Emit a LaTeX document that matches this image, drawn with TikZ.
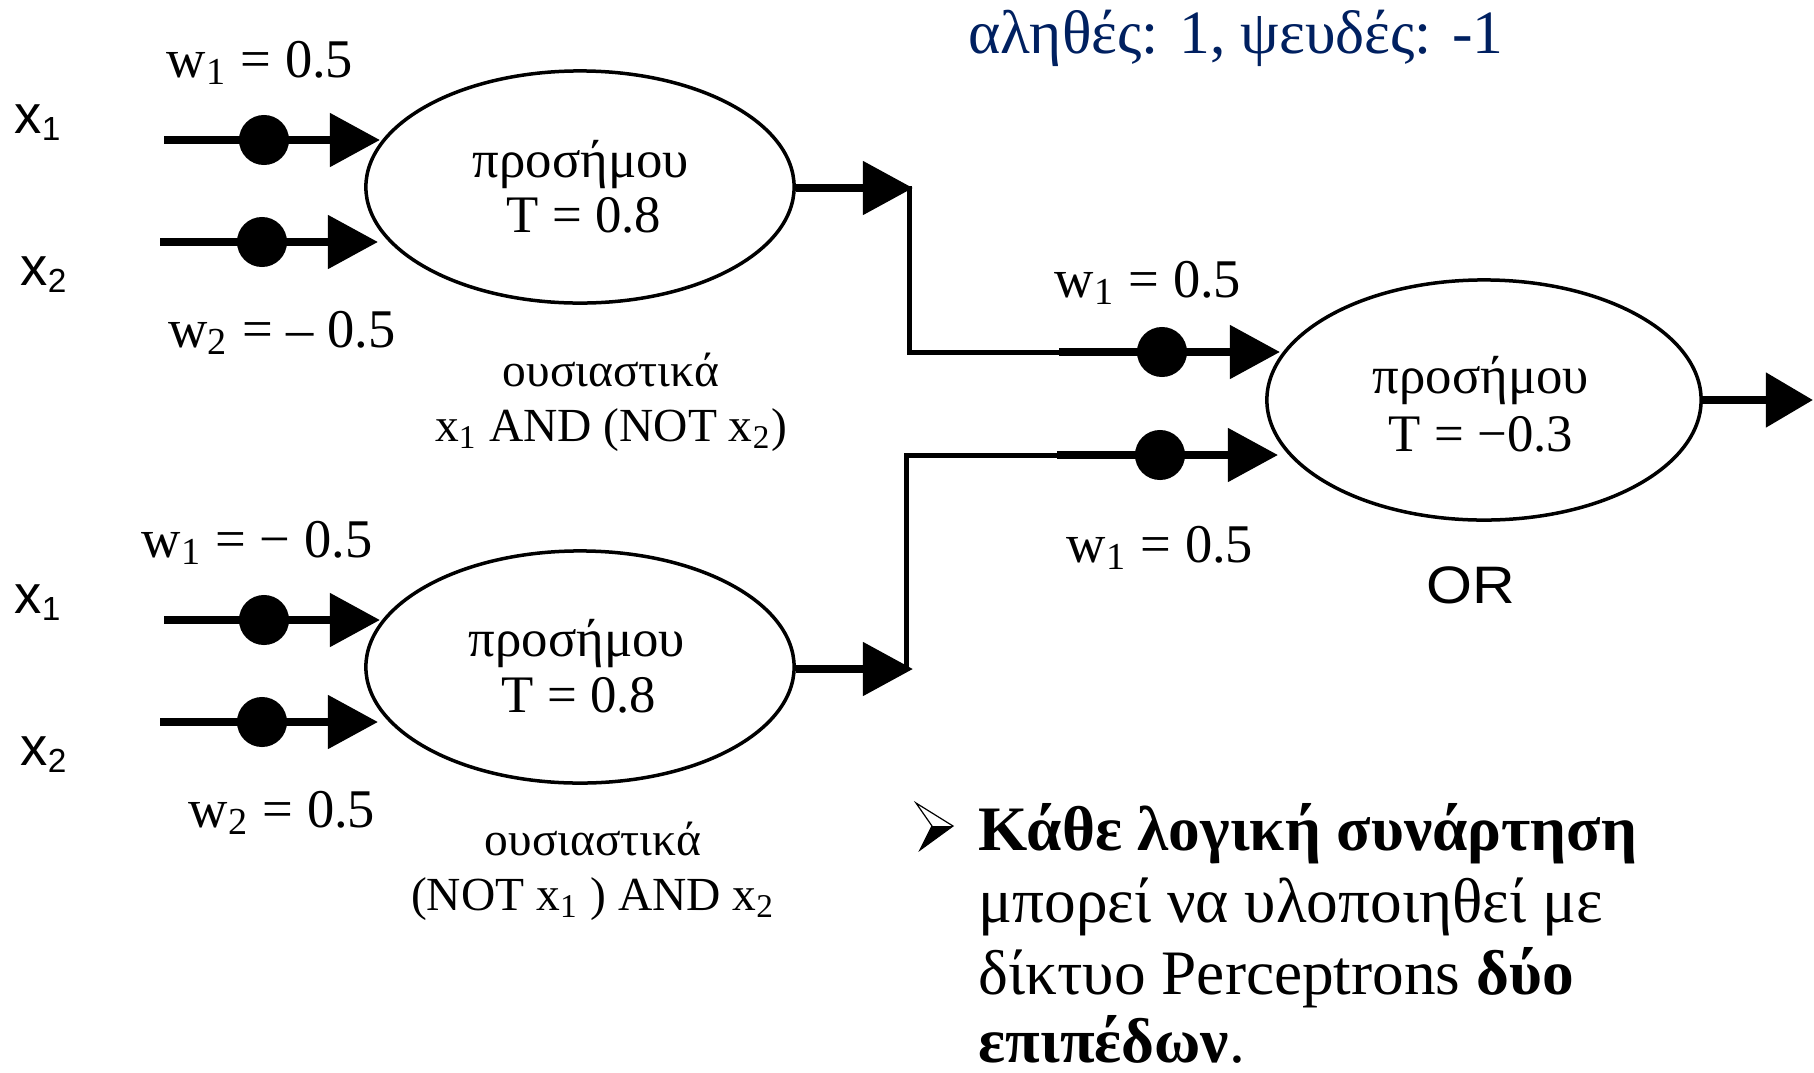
\documentclass[tikz,border=0pt]{standalone}
\usepackage{fontspec}
\usepackage{graphicx}
\setmainfont{Liberation Serif}
\newfontfamily\sansf{Liberation Sans}
\usetikzlibrary{arrows.meta,shapes.geometric}
\definecolor{navy}{RGB}{0,32,96}
\newcommand{\xsub}[1]{x\raisebox{-2.2pt}{\fontsize{9.5}{10}\selectfont #1}}
\begin{document}
\begin{tikzpicture}[x=0.01cm,y=-0.01cm,
  thickline/.style={line width=0.08cm},
  thinline/.style={line width=0.05cm},
  tri/.style={-{Triangle[length=0.5cm,width=0.52cm]}},
  unit/.style={draw, ellipse, line width=0.035cm, minimum width=4.28cm, minimum height=2.32cm, inner sep=0},
  wdot/.style={circle, fill, minimum size=0.5cm, inner sep=0},
  lab/.style={font=\fontsize{15.5}{18}\selectfont, inner sep=0, anchor=base},
  inlab/.style={font=\fontsize{15}{18}\selectfont, inner sep=0, anchor=base},
  captxt/.style={font=\fontsize{13.5}{16}\selectfont, inner sep=0, anchor=base},
  xlab/.style={font=\sansf\fontsize{15.5}{18}\selectfont, inner sep=0, anchor=base west},
  big/.style={font=\fontsize{18}{21}\selectfont, inner sep=0, anchor=base west}]
\useasboundingbox (0,0) rectangle (1814,1072);

% title
\node[font=\fontsize{17.5}{20}\selectfont, text=navy, inner sep=0, anchor=base] (title) at (1236,53) {αληθές: 1, ψευδές: -1};

% units
\node[unit] (A) at (580,187) {};
\node[unit] (B) at (580,667) {};
\node[unit, minimum width=4.34cm, minimum height=2.4cm] (C) at (1484,400) {};

\node[inlab] (At1) at (581,177) {προσήμου};
\node[inlab] (At2) at (584,232) {T = 0.8};
\node[inlab] (Bt1) at (577,656) {προσήμου};
\node[inlab] (Bt2) at (579,712) {T = 0.8};
\node[inlab] (Ct1) at (1481,393) {προσήμου};
\node[inlab] (Ct2) at (1481,451) {T = −0.3};

% input labels
\node[xlab] (xa1) at (14,133) {\xsub{1}};
\node[xlab] (xa2) at (20,285) {\xsub{2}};
\node[xlab] (xb1) at (14,613) {\xsub{1}};
\node[xlab] (xb2) at (20,765) {\xsub{2}};

% weights
\node[lab] (wa1) at (260,77) {w\textsubscript{1} = 0.5};
\node[lab] (wa2) at (282,347) {w\textsubscript{2} = – 0.5};
\node[lab] (wb1) at (257,557) {w\textsubscript{1} = − 0.5};
\node[lab] (wb2) at (282,827) {w\textsubscript{2} = 0.5};
\node[lab] (wc1) at (1148,297) {w\textsubscript{1} = 0.5};
\node[lab] (wc2) at (1160,562) {w\textsubscript{1} = 0.5};

% captions
\node[captxt] (ca1) at (611,386) {ουσιαστικά};
\node[captxt] (ca2) at (611,441) {x\textsubscript{1} AND (NOT x\textsubscript{2})};
\node[captxt] (cb1) at (593,855) {ουσιαστικά};
\node[captxt] (cb2) at (593,910) {(NOT x\textsubscript{1} ) AND x\textsubscript{2}};
\node[font=\sansf\fontsize{15}{17}\selectfont, inner sep=0, anchor=base] (or) at (1471,603) {\scalebox{1.12}[1]{OR}};

% input dots and arrow ends
\coordinate (sa1) at (164,140); \node[wdot] (da1) at (264,140) {}; \coordinate (ta1) at (380,140);
\coordinate (sa2) at (160,242); \node[wdot] (da2) at (262,242) {}; \coordinate (ta2) at (378,242);
\coordinate (sb1) at (164,620); \node[wdot] (db1) at (264,620) {}; \coordinate (tb1) at (380,620);
\coordinate (sb2) at (160,722); \node[wdot] (db2) at (262,722) {}; \coordinate (tb2) at (378,722);

\draw[thickline, tri] (sa1) -- (da1.center) -- (ta1);
\draw[thickline, tri] (sa2) -- (da2.center) -- (ta2);
\draw[thickline, tri] (sb1) -- (db1.center) -- (tb1);
\draw[thickline, tri] (sb2) -- (db2.center) -- (tb2);

% outputs of first layer
\coordinate (oa) at (913,188);
\coordinate (ob) at (913,669);
\draw[thickline, tri] (A.east |- oa) -- (oa);
\draw[thickline, tri] (B.east |- ob) -- (ob);

% connectors to OR unit
\coordinate (ka1) at (909,186);
\coordinate (ka2) at (909,352);
\coordinate (ka3) at (1059,352);
\node[wdot] (dc1) at (1162,352) {};
\coordinate (tc1) at (1280,352);
\draw[thinline] (ka1) -- (ka2) -- (ka3);
\draw[thickline, tri] (ka3) -- (dc1.center) -- (tc1);

\coordinate (kb1) at (906,671);
\coordinate (kb2) at (906,455);
\coordinate (kb3) at (1057,455);
\node[wdot] (dc2) at (1160,455) {};
\coordinate (tc2) at (1278,455);
\draw[thinline] (kb1) -- (kb2) -- (kb3);
\draw[thickline, tri] (kb3) -- (dc2.center) -- (tc2);

% output of OR unit
\coordinate (oc) at (1813,400);
\draw[thickline, -{Triangle[length=0.47cm,width=0.53cm]}] (C.east) -- (oc);

% bullet
\draw[line width=0.012cm, line join=miter] (916,803) -- (953,826) -- (920,850) -- (932,826) -- cycle;
\fill (932,826) -- (953,826) -- (920,850) -- cycle;

% bottom text
\node[big] (b1) at (978,850) {\textbf{Κάθε λογική συνάρτηση}};
\node[big] (b2) at (978,922) {μπορεί να υλοποιηθεί με};
\node[big] (b3) at (978,994) {δίκτυο Perceptrons \textbf{δύο}};
\node[big] (b4) at (978,1062) {\textbf{επιπέδων}.};
\end{tikzpicture}
\end{document}
